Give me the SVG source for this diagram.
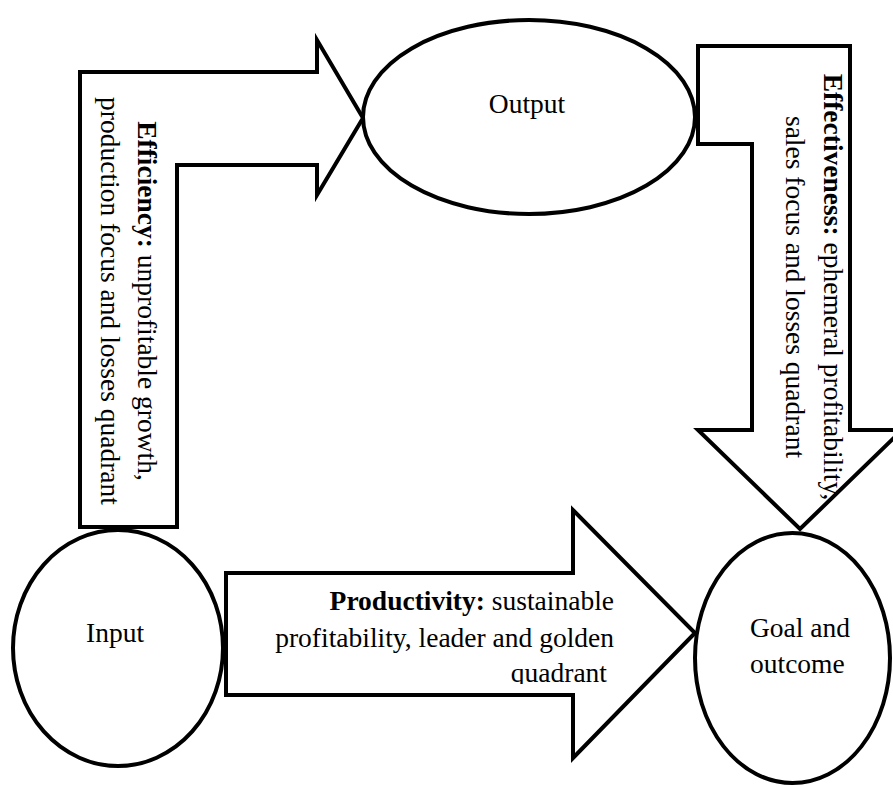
<svg xmlns="http://www.w3.org/2000/svg" width="893" height="787" viewBox="0 0 893 787">
<style>
.shape{fill:#fff;stroke:#000;stroke-width:4;stroke-linejoin:miter}
.t{font-family:"Liberation Serif","Times New Roman",serif;font-size:27.5px;fill:#000}
.b{font-weight:bold}
</style>
<defs>
<clipPath id="clipProd"><rect x="230" y="576" width="440" height="108"/></clipPath>
</defs>
<g id="connectors">
<polygon id="arrow-efficiency" class="shape" points="80,527 80,72 317,72 317,40 363,118 317,195 317,165 177,165 177,527"/>
<polygon id="arrow-effectiveness" class="shape" points="698,46 850,46 850,430 902,430 800,529 698,430 752,430 752,144 698,144"/>
<polygon id="arrow-productivity" class="shape" points="226,573 573,573 573,510 695,633 573,758 573,695 226,695"/>
</g>
<g id="labels">
<text class="t" transform="translate(138,301) rotate(90)" text-anchor="middle"><tspan x="0" y="0"><tspan class="b">Efficiency:</tspan> unprofitable growth,</tspan><tspan x="0" y="37">production focus and losses quadrant</tspan></text>
<text class="t" transform="translate(824,287) rotate(90)" text-anchor="middle"><tspan x="0" y="0"><tspan class="b">Effectiveness:</tspan> ephemeral profitability,</tspan><tspan x="0" y="38">sales focus and losses quadrant</tspan></text>
<g clip-path="url(#clipProd)">
<text class="t" text-anchor="end"><tspan x="614" y="610"><tspan class="b">Productivity:</tspan> sustainable</tspan><tspan x="614" y="647">profitability, leader and golden</tspan><tspan x="607" y="682">quadrant</tspan></text>
</g>
</g>
<g id="node-output">
<ellipse class="shape" cx="529" cy="117" rx="166" ry="97"/>
<text class="t" x="527" y="113" text-anchor="middle">Output</text>
</g>
<g id="node-input">
<ellipse class="shape" cx="118" cy="648" rx="105" ry="118"/>
<text class="t" x="115" y="642" text-anchor="middle">Input</text>
</g>
<g id="node-goal">
<ellipse class="shape" cx="792.5" cy="658" rx="97.5" ry="125"/>
<text class="t" x="750" y="637">Goal and</text>
<text class="t" x="750" y="673">outcome</text>
</g>
</svg>
